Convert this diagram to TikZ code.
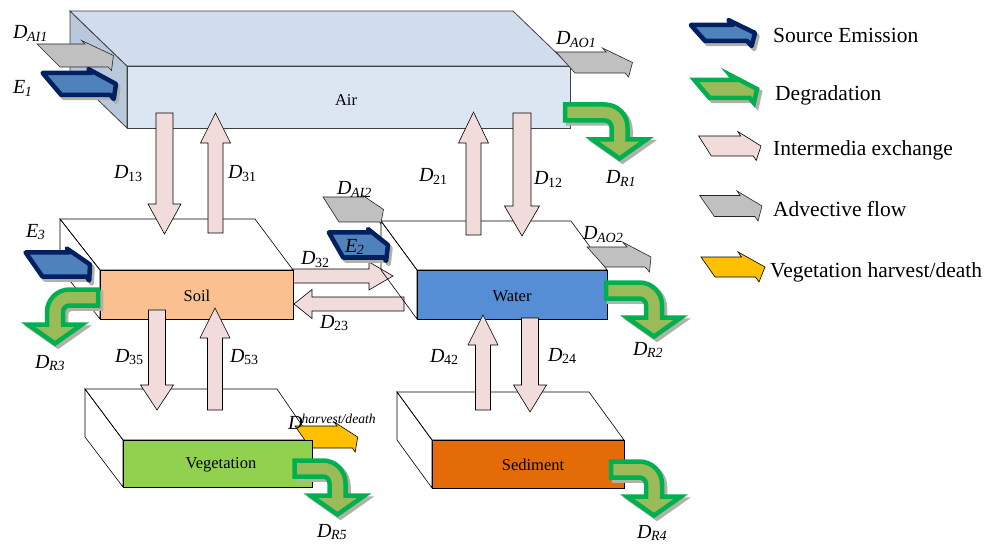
\documentclass[tikz,border=0pt]{standalone}
\usepackage{fontspec}
\setmainfont{Liberation Serif}
\definecolor{airtop}{RGB}{209,221,237}
\definecolor{airfront}{RGB}{220,230,242}
\definecolor{airside}{RGB}{186,200,220}
\definecolor{soilc}{RGB}{250,192,144}
\definecolor{waterc}{RGB}{85,142,213}
\definecolor{vegc}{RGB}{146,208,80}
\definecolor{sedc}{RGB}{227,108,9}
\definecolor{pinkc}{RGB}{242,220,219}
\definecolor{grayc}{RGB}{192,192,192}
\definecolor{yellowc}{RGB}{255,192,0}
\definecolor{navyc}{RGB}{0,32,96}
\definecolor{bluec}{RGB}{79,129,189}
\definecolor{greenline}{RGB}{0,176,80}
\definecolor{greenfill}{RGB}{155,187,89}
\definecolor{shadowc}{RGB}{175,178,165}
\definecolor{airline}{RGB}{64,64,64}
\tikzset{
  inter/.style={fill=pinkc, draw=black, line width=0.6pt},
  advec/.style={fill=grayc, draw=black!85, line width=0.6pt},
  harv/.style={fill=yellowc, draw=black, line width=0.6pt},
  emis/.style={fill=bluec, draw=navyc, line width=4.5pt, line join=round},
  emishadow/.style={fill=shadowc, draw=shadowc, line width=4.5pt, line join=round, shift={(2.5,3)}},
  degr/.style={fill=greenfill, draw=greenline, line width=4.5pt, line join=miter},
  degshadow/.style={fill=shadowc, draw=shadowc, line width=4.5pt, line join=miter, shift={(3,3)}},
  boxline/.style={draw=black, line width=0.6pt},
  airbox/.style={draw=airline, line width=0.8pt},
  lab/.style={font=\fontsize{20}{22}\selectfont, inner sep=0pt, anchor=base west},
  boxlab/.style={font=\fontsize{16.5}{18}\selectfont, inner sep=0pt},
  leg/.style={font=\fontsize{21.5}{24}\selectfont, inner sep=0pt, anchor=base west}
}
% flat (sheared) block arrow: #1 style, #2 x0, #3 yc, #4 L, #5 head base, #6 h, #7 H, #8 slant
\newcommand\flatarr[8]{%
  \draw[#1] ({#2-#8*#6},{#3-#6}) -- ({#2+#5-#8*#6},{#3-#6}) -- ({#2+#5-#8*#7},{#3-#7})
    -- ({#2+#4},{#3}) -- ({#2+#5+#8*#7},{#3+#7}) -- ({#2+#5+#8*#6},{#3+#6})
    -- ({#2+#8*#6},{#3+#6}) -- cycle;}
% vertical block arrow: #1 xc, #2 ytail, #3 ybase, #4 ytip, #5 h, #6 H
\newcommand\varr[6]{%
  \draw[inter] ({#1-#5},#2) -- ({#1-#5},#3) -- ({#1-#6},#3) -- (#1,#4) -- ({#1+#6},#3)
    -- ({#1+#5},#3) -- ({#1+#5},#2) -- cycle;}
% horizontal block arrow: #1 yc, #2 xtail, #3 xbase, #4 xtip, #5 h, #6 H
\newcommand\harr[6]{%
  \draw[inter] (#2,{#1-#5}) -- (#3,{#1-#5}) -- (#3,{#1-#6}) -- (#4,#1) -- (#3,{#1+#6})
    -- (#3,{#1+#5}) -- (#2,{#1+#5}) -- cycle;}
% bent degradation arrow: #1 ox, #2 oy, #3 a, #4 xscale, #5 style
\newcommand\degarr[5]{%
  \draw[#5, shift={(#1,#2)}, xscale=#4] (-#3,-8) -- (-14.5,-8)
    .. controls (-2.07,-8) and (8,2.07) .. (8,14.5) -- (8,27) -- (27,27) -- (0,46)
    -- (-27,27) -- (-8,27) -- (-8,14.5) .. controls (-8,10.91) and (-10.91,8) .. (-14.5,8)
    -- (-#3,8) -- cycle;}
\newcommand\Dl[1]{\textit{D}\kern-0.5pt\raisebox{-2.5pt}{\fontsize{14}{14}\selectfont #1}}
\newcommand\El[1]{\textit{E}\kern-0.5pt\raisebox{-2.5pt}{\fontsize{14}{14}\selectfont\itshape #1}}
\begin{document}
\begin{tikzpicture}[x=1pt,y=-1pt]
\useasboundingbox (0,0) rectangle (1003,545);
% ---- Air box
\draw[airbox, fill=airside] (70,11) -- (127,66) -- (127,128) -- (70,73) -- cycle;
\draw[airbox, fill=airtop] (70,11) -- (513,11) -- (570,66) -- (127,66) -- cycle;
\draw[airbox, fill=airfront] (127,66) rectangle (570,128);
% ---- horizontal exchange arrows
\harr{276}{293}{369}{393}{7}{14}
\harr{304}{404}{312}{294}{7}{14.5}
% ---- Soil box
\draw[boxline] (60,219) -- (255,219) -- (293,270) -- (100,270) -- cycle;
\draw[boxline] (60,219) -- (100,270) -- (100,319) -- (60,268) -- cycle;
\draw[boxline, fill=soilc] (100,270) rectangle (293,319);
% ---- Water box
\draw[boxline] (381,221) -- (571,221) -- (607,270) -- (417,270) -- cycle;
\draw[boxline] (381,221) -- (417,270) -- (417,319) -- (381,270) -- cycle;
\draw[boxline, fill=waterc] (417,270) rectangle (607,319);
% ---- Sediment box
\draw[boxline] (397,392) -- (589,392) -- (624,440) -- (432,440) -- cycle;
\draw[boxline] (397,392) -- (432,440) -- (432,488) -- (397,440) -- cycle;
\draw[boxline, fill=sedc] (432,440) rectangle (624,488);
% ---- Vegetation box
\draw[boxline] (85,389) -- (277,389) -- (312,440) -- (123,440) -- cycle;
\draw[boxline] (85,389) -- (123,440) -- (123,487) -- (85,437) -- cycle;
\flatarr{harv}{302.7}{437}{55}{42}{11}{15}{0.7}
\draw[boxline, fill=vegc] (123,440) rectangle (312,487);
% ---- vertical exchange arrows
\varr{164.5}{113}{204}{234}{8.5}{16.5}
\varr{215.5}{233}{143}{113}{7.5}{15}
\varr{473.5}{235}{143}{112}{7.5}{15}
\varr{522}{113}{206}{236}{9}{17.5}
\varr{157}{310}{385}{410}{8.5}{16.5}
\varr{215}{410}{338}{308}{7.5}{15}
\varr{483}{410}{345}{315}{7.5}{15}
\varr{530}{318}{385}{412}{8.5}{16.5}
% ---- advective flows
\flatarr{advec}{48.5}{55.5}{65}{48}{11.5}{15}{1}
\flatarr{advec}{565.5}{62.5}{67}{50}{10.5}{14.5}{0.9}
\flatarr{advec}{331}{209.5}{52.5}{40.5}{12.5}{14.5}{0.64}
\flatarr{advec}{596}{257}{55}{40}{10}{15}{0.9}
% ---- source emissions
\flatarr{emishadow}{52}{84}{64}{49}{11}{15}{0.85}
\flatarr{emis}{52}{84}{64}{49}{11}{15}{0.85}
\flatarr{emishadow}{336}{245}{52}{41}{12.5}{16}{0.57}
\flatarr{emis}{336}{245}{52}{41}{12.5}{16}{0.57}
\flatarr{emishadow}{34}{264.5}{56}{44}{12}{16}{0.7}
\flatarr{emis}{34}{264.5}{56}{44}{12}{16}{0.7}
% ---- degradation
\degarr{619.5}{112.5}{54.5}{1}{degshadow}
\degarr{619.5}{112.5}{54.5}{1}{degr}
\degarr{654}{290.5}{48}{1}{degshadow}
\degarr{654}{290.5}{48}{1}{degr}
\degarr{337.5}{468.5}{43}{1}{degshadow}
\degarr{337.5}{468.5}{43}{1}{degr}
\degarr{654}{469.5}{43}{1}{degshadow}
\degarr{654}{469.5}{43}{1}{degr}
\degarr{55}{297.5}{43}{-1}{degshadow}
\degarr{55}{297.5}{43}{-1}{degr}
% ---- legend
\flatarr{emishadow}{698}{33}{57}{42}{8}{13}{0.9}
\flatarr{emis}{698}{33}{57}{42}{8}{13}{0.9}
\flatarr{degshadow}{702}{89}{55}{40}{9}{14}{0.85}
\flatarr{degr}{702}{89}{55}{40}{9}{14}{0.85}
\flatarr{inter}{705}{146}{56}{42}{10}{14.5}{0.635}
\flatarr{advec}{707}{206}{55}{40.5}{10.5}{15}{0.7}
\flatarr{harv}{708}{267}{57}{40.5}{10}{15}{0.7}
\node[leg] (legE) at (773,43) {Source Emission};
\node[leg] (legD) at (775,101) {Degradation};
\node[leg] (legI) at (773,156) {Intermedia exchange};
\node[leg] (legA) at (773,217) {Advective flow};
\node[leg] (legV) at (770,277) {Vegetation harvest/death};
% ---- compartment labels
\node[boxlab] (air) at (346,100) {Air};
\node[boxlab] (soil) at (197,296) {Soil};
\node[boxlab] (water) at (512,296) {Water};
\node[boxlab] (veg) at (221,465) {Vegetation};
\node[boxlab] (sed) at (533,465) {Sediment};
% ---- flux labels
\node[lab] (lDAI1) at (13,39) {\Dl{\textit{AI1}}};
\node[lab] (lE1) at (13,94) {\El{1}};
\node[lab] (lDAO1) at (556,45) {\Dl{\textit{AO1}}};
\node[lab] (lD13) at (114,179) {\Dl{13}};
\node[lab] (lD31) at (228,179) {\Dl{31}};
\node[lab] (lD21) at (419,182) {\Dl{21}};
\node[lab] (lD12) at (534,185) {\Dl{12}};
\node[lab] (lDR1) at (606,184) {\Dl{\textit{R1}}};
\node[lab] (lDAI2) at (337,195) {\Dl{\textit{AI2}}};
\node[lab] (lE3) at (26,237) {\El{3}};
\node[lab] (lE2) at (345,252) {\El{2}};
\node[lab] (lDAO2) at (583,240) {\Dl{\textit{AO2}}};
\node[lab] (lD32) at (301,265) {\Dl{32}};
\node[lab] (lD23) at (320,328) {\Dl{23}};
\node[lab] (lDR3) at (35,368) {\Dl{\textit{R3}}};
\node[lab] (lDR2) at (633,355) {\Dl{\textit{R2}}};
\node[lab] (lD35) at (115,362) {\Dl{35}};
\node[lab] (lD53) at (230,362) {\Dl{53}};
\node[lab] (lD42) at (430,362) {\Dl{42}};
\node[lab] (lD24) at (548,361) {\Dl{24}};
\node[lab] (lDhd) at (288,429) {\textit{D}\kern-1pt\raisebox{6pt}{\fontsize{13.6}{14}\selectfont\itshape harvest/death}};
\node[lab] (lDR5) at (317,537) {\Dl{\textit{R5}}};
\node[lab] (lDR4) at (637,538) {\Dl{\textit{R4}}};
\end{tikzpicture}
\end{document}
